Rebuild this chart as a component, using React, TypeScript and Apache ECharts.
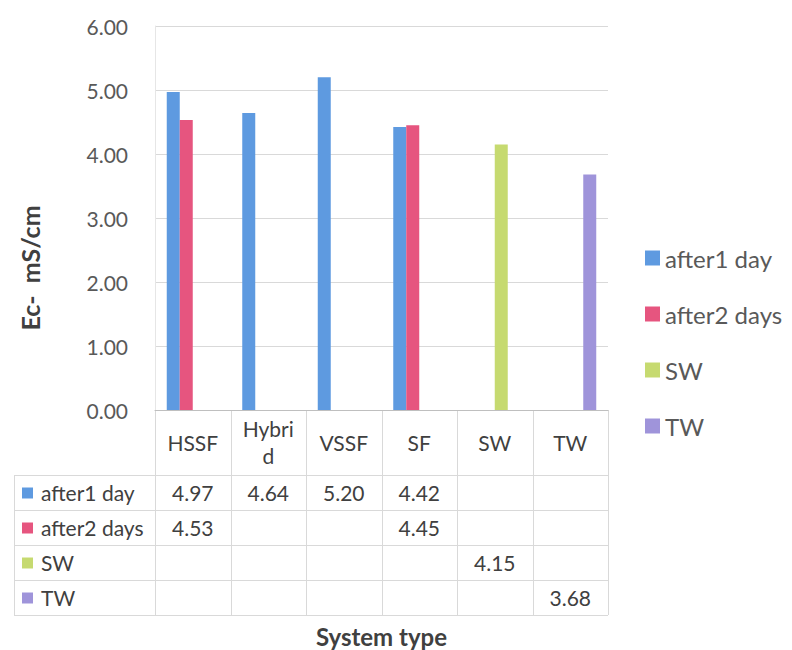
import React, { useEffect, useRef } from "react";
import * as echarts from "echarts";

const categories = ["HSSF", "Hybrid", "VSSF", "SF", "SW", "TW"];
const seriesNames = ["after1 day", "after2 days", "SW", "TW"];
const after1Day = [4.97, 4.64, 5.2, 4.42, null, null];
const after2Days = [4.53, null, null, 4.45, null, null];
const swValues = [null, null, null, null, 4.15, null];
const twValues = [null, null, null, null, null, 3.68];
const colors = ["#5e9ae0", "#e6557f", "#c6da70", "#9f94da"];

const FONT = "Lato, 'Open Sans', sans-serif";

export default function App() {
  const ref = useRef<HTMLDivElement>(null);
  useEffect(() => {
    if (!ref.current) return;
    document.body.style.margin = "0";
    const chart = echarts.init(ref.current, null, { renderer: "svg" });
    const allSeries = [after1Day, after2Days, swValues, twValues];
    chart.setOption({
      animation: false,
      backgroundColor: "#ffffff",
      textStyle: { fontFamily: FONT },
      grid: { left: 155, right: 184, top: 26, bottom: 240, containLabel: false, outerBoundsMode: "none" },
      legend: {
        orient: "vertical",
        left: 640,
        top: 241,
        itemWidth: 15,
        itemHeight: 15,
        itemGap: 32,
        icon: "rect",
        textStyle: { fontSize: 24, color: "#595959", fontFamily: FONT },
        data: seriesNames,
      },
      xAxis: {
        type: "category",
        data: categories,
        name: "System type",
        nameLocation: "middle",
        nameGap: 214,
        nameTextStyle: { fontSize: 24, fontWeight: "bold", color: "#404040", fontFamily: FONT },
        axisLine: { lineStyle: { color: "#bfbfbf" } },
        axisTick: { show: false },
        axisLabel: {
          interval: 0,
          hideOverlap: false,
          fontSize: 21,
          color: "#404040",
          margin: 32,
          verticalAlign: "middle",
          width: 54,
          overflow: "breakAll",
          lineHeight: 27,
          fontFamily: FONT,
        },
      },
      yAxis: {
        type: "value",
        min: 0,
        max: 6,
        interval: 1,
        axisLine: { show: true, lineStyle: { color: "#e6e6e6" } },
        axisTick: { show: false },
        splitLine: { lineStyle: { color: "#d9d9d9" } },
        axisLabel: {
          fontSize: 21,
          color: "#595959",
          margin: 27,
          formatter: (v: number) => v.toFixed(2),
          fontFamily: FONT,
        },
      },
      series: allSeries.map((d, i) => ({
        name: seriesNames[i],
        type: "bar",
        data: d.map((v) => (v === null ? "-" : v)),
        barWidth: 13,
        barGap: "0%",
        itemStyle: { color: colors[i] },
      })),
    });

    const cx = categories.map((c) => chart.convertToPixel({ xAxisIndex: 0 }, c) as number);
    const band = cx[1] - cx[0];
    const y0 = chart.convertToPixel({ yAxisIndex: 0 }, 0) as number;
    const headerH = 65;
    const rowH = 35;
    const tableLeft = 14;
    const xLeft = cx[0] - band / 2;
    const xRight = cx[cx.length - 1] + band / 2;
    const tableBottom = y0 + headerH + rowH * seriesNames.length;
    const lineStyle = { stroke: "#d9d9d9", lineWidth: 1 };
    const elements: any[] = [];
    elements.push({
      type: "text",
      x: 30,
      y: 268,
      rotation: Math.PI / 2,
      style: {
        text: "Ec-  mS/cm",
        fontSize: 25,
        fontWeight: "bold",
        fill: "#404040",
        fontFamily: FONT,
        align: "center",
        verticalAlign: "middle",
      },
      silent: true,
    });
    for (let k = 0; k <= seriesNames.length; k++) {
      const y = Math.round(y0 + headerH + k * rowH) + 0.5;
      elements.push({ type: "line", shape: { x1: tableLeft, y1: y, x2: xRight, y2: y }, style: lineStyle, silent: true });
    }
    for (let i = 0; i <= categories.length; i++) {
      const x = Math.round(xLeft + i * band) + 0.5;
      elements.push({ type: "line", shape: { x1: x, y1: y0, x2: x, y2: tableBottom }, style: lineStyle, silent: true });
    }
    elements.push({
      type: "line",
      shape: { x1: tableLeft + 0.5, y1: y0 + headerH, x2: tableLeft + 0.5, y2: tableBottom },
      style: lineStyle,
      silent: true,
    });
    allSeries.forEach((d, r) => {
      const yc = y0 + headerH + r * rowH + rowH / 2;
      elements.push({ type: "rect", shape: { x: 22, y: yc - 5, width: 11, height: 11 }, style: { fill: colors[r] }, silent: true });
      elements.push({
        type: "text",
        x: 41,
        y: yc,
        style: { text: seriesNames[r], fontSize: 21, fill: "#404040", fontFamily: FONT, verticalAlign: "middle", align: "left" },
        silent: true,
      });
      d.forEach((v, i) => {
        if (v === null) return;
        elements.push({
          type: "text",
          x: cx[i],
          y: yc,
          style: { text: v.toFixed(2), fontSize: 21, fill: "#404040", fontFamily: FONT, verticalAlign: "middle", align: "center" },
          silent: true,
        });
      });
    });
    chart.setOption({ graphic: { elements } });
    return () => chart.dispose();
  }, []);
  return <div ref={ref} style={{ width: 792, height: 650 }} />;
}
